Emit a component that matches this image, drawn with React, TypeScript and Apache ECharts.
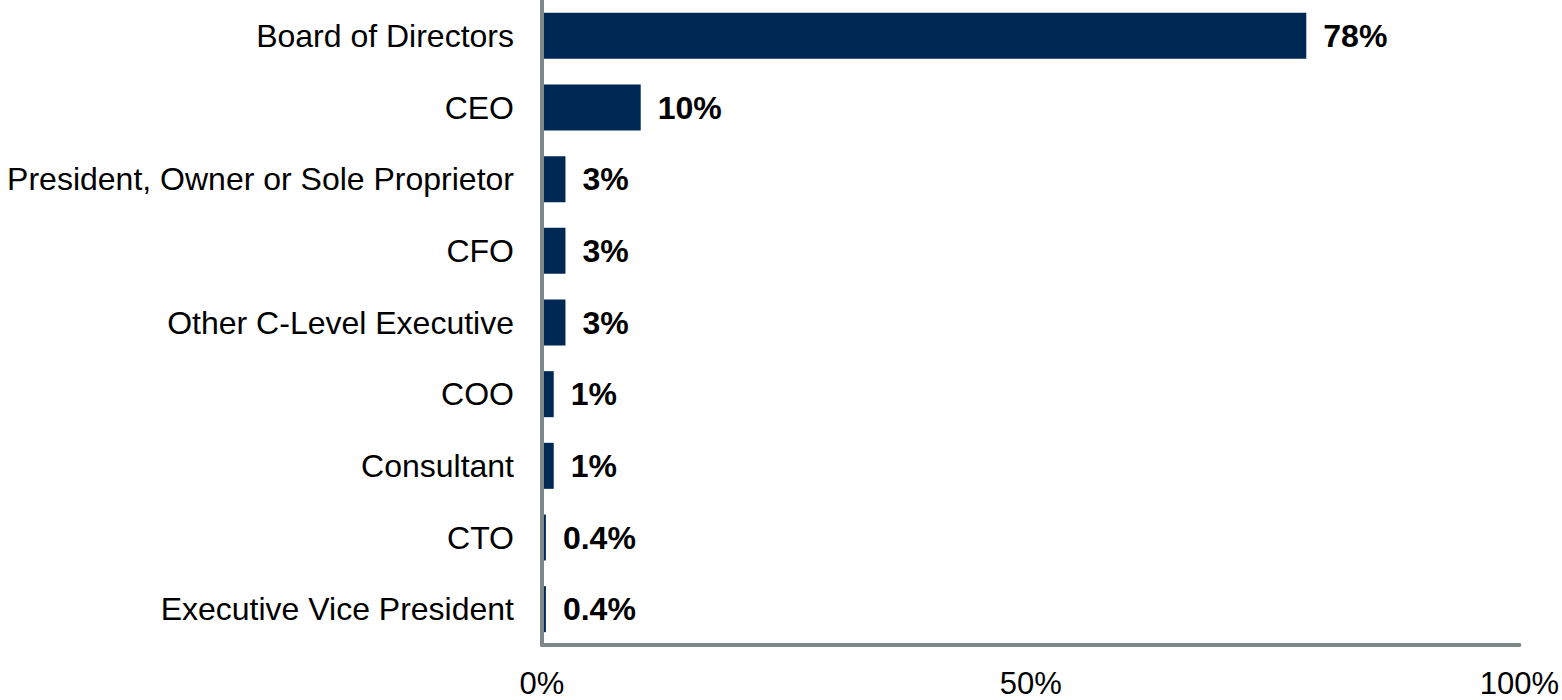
import React, { useEffect, useRef } from "react";
import * as echarts from "echarts";

const categories = [
  "Board of Directors",
  "CEO",
  "President, Owner or Sole Proprietor",
  "CFO",
  "Other C-Level Executive",
  "COO",
  "Consultant",
  "CTO",
  "Executive Vice President",
];
const values = [78.2, 10.1, 2.4, 2.4, 2.4, 1.2, 1.2, 0.4, 0.4];
const valueLabels = ["78%", "10%", "3%", "3%", "3%", "1%", "1%", "0.4%", "0.4%"];
const xTicks = [0, 50, 100];

export default function App() {
  const ref = useRef<HTMLDivElement>(null);
  useEffect(() => {
    if (!ref.current) return;
    const chart = echarts.init(ref.current, null, { renderer: "svg" });
    const font = "'Liberation Sans', Arial, sans-serif";
    chart.setOption({
      animation: false,
      grid: { left: 542, right: 42, top: 0, bottom: 55, containLabel: false },
      xAxis: {
        type: "value",
        min: xTicks[0],
        max: xTicks[xTicks.length - 1],
        interval: 50,
        axisLine: { show: true, lineStyle: { color: "#7d8788", width: 4 } },
        axisTick: { show: false },
        splitLine: { show: false },
        axisLabel: {
          margin: 23,
          fontSize: 31,
          fontFamily: font,
          color: "#000",
          formatter: (v: number) => `${v}%`,
        },
      },
      yAxis: {
        type: "category",
        data: categories,
        inverse: true,
        z: 5,
        axisLine: { show: true, lineStyle: { color: "#7d8788", width: 4 } },
        axisTick: { show: false },
        axisLabel: {
          margin: 28,
          fontSize: 32,
          fontFamily: font,
          color: "#000",
        },
      },
      series: [
        {
          type: "bar",
          data: values,
          barWidth: 46,
          itemStyle: { color: "#002855" },
          label: {
            show: true,
            position: "right",
            distance: 17,
            fontSize: 32,
            fontWeight: "bold",
            fontFamily: font,
            color: "#000",
            formatter: (p: any) => valueLabels[p.dataIndex],
          },
        },
      ],
    });
    return () => chart.dispose();
  }, []);
  return (
    <div
      ref={ref}
      style={{ position: "fixed", left: 0, top: 0, width: 1562, height: 700, background: "#fff" }}
    />
  );
}
